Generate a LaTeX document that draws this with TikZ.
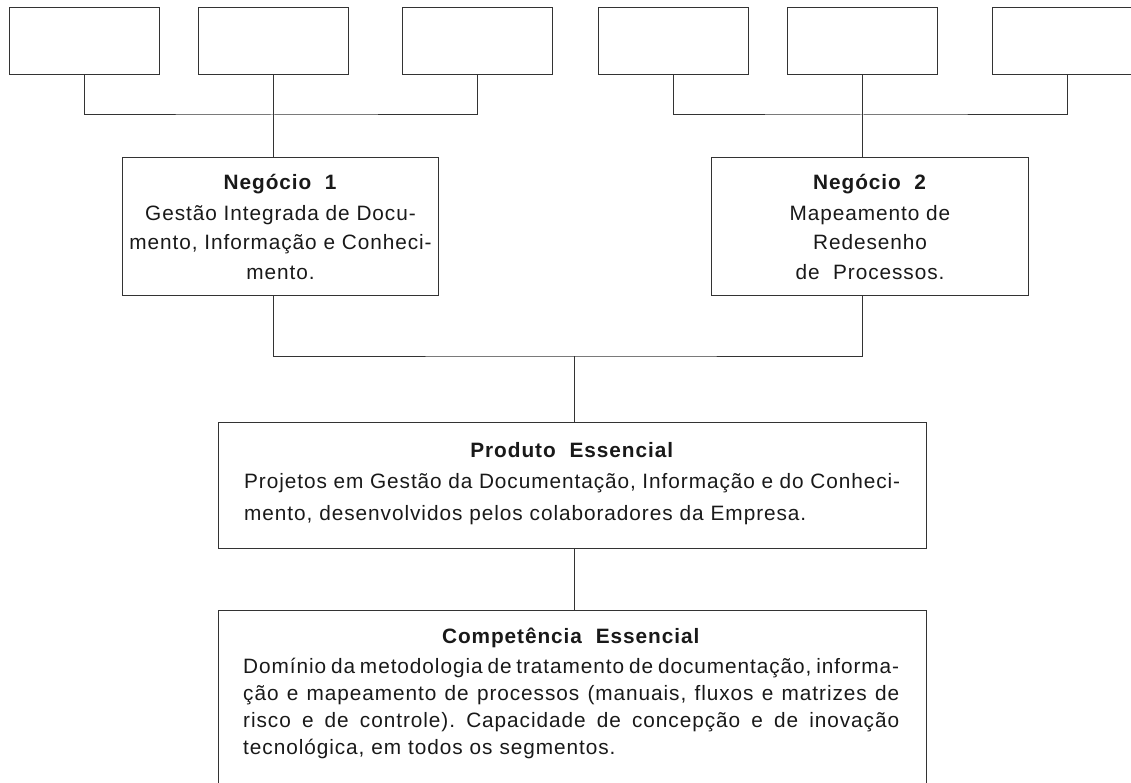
\documentclass[tikz,border=0pt]{standalone}
\usepackage{fontspec}
\setmainfont{Liberation Sans}[LetterSpace=4.5]
\usepackage{tikz}

% linha justificada: cada espaco vira cola elastica
\makeatletter
\def\linhaj#1{\makebox[656pt][s]{\linha@#1 \@nil}}
\def\linha@#1 #2\@nil{#1\if\relax\detokenize{#2}\relax\else\hskip 6.2pt plus 1fil minus 3pt\relax\linha@#2\@nil\fi}
\makeatother

\begin{document}
\begin{tikzpicture}[x=1pt,y=-1pt,
    caixa/.style={draw=black!80, line width=1pt, anchor=north west, inner sep=0pt},
    topo/.style={caixa, minimum width=150pt, minimum height=67pt},
    negocio/.style={caixa, minimum width=316pt, minimum height=138pt, align=center,
        font=\fontsize{20.8}{29.5}\selectfont, text=black!90},
    texto/.style={anchor=base west, inner sep=0pt, align=left, text width=656pt, text=black!90},
    liga/.style={draw=black!80, line width=1pt}]
            \useasboundingbox (0,0) rectangle (1131,783);
            \clip (0,0) rectangle (1131,783);

            % caixas vazias de cima
            \node[topo] (t1) at (8.6,7) {};
            \node[topo] (t2) at (197.5,7) {};
            \node[topo] (t3) at (402,7) {};
            \node[topo] (t4) at (598,7) {};
            \node[topo] (t5) at (787,7) {};
            \node[topo] (t6) at (991.5,7) {};

            \node[negocio] (n1) at (122,157) {\textbf{Negócio\ \ 1}\\[1.5pt] Gestão Integrada de Docu-\\ mento, Informação e Conheci-\\ mento.};
            \node[negocio, minimum width=317pt] (n2) at (711,157) {\textbf{Negócio\ \ 2}\\[1.5pt] Mapeamento de\\ Redesenho\\ de\ \ Processos.};

            \node[caixa, minimum width=708pt, minimum height=126pt] (prod) at (218,422) {};
            \node[caixa, minimum width=708pt, minimum height=200pt] (comp) at (218,610) {};

            \node[texto, font=\fontsize{20.8}{31.5}\selectfont] (prodtxt) at (244,457) {%
                \makebox[656pt]{\textbf{Produto\ \ Essencial}}\\
                \linhaj{Projetos em Gestão da Documentação, Informação e do Conheci-}\\
                mento, desenvolvidos pelos colaboradores da Empresa.};
            \node[texto, font=\fontsize{20.8}{27}\selectfont] (comptxt) at (243,643) {%
                \makebox[656pt]{\textbf{Competência\ \ Essencial}}\\[3pt]
                \linhaj{Domínio da metodologia de tratamento de documentação, informa-}\\
                \linhaj{ção e mapeamento de processos (manuais, fluxos e matrizes de}\\
                \linhaj{risco e de controle). Capacidade de concepção e de inovação}\\
                tecnológica, em todos os segmentos.};

            % ligacoes
            \coordinate (b1) at (272.5,115);
            \coordinate (b2) at (862,115);
            \coordinate (b3) at (574,356);
            \draw[liga] (t1.south) |- (b1) -| (t3.south);
            \draw[liga] (t2.south) -- (t2.south |- n1.north);
            \draw[liga] (t4.south) |- (b2) -| (t6.south);
            \draw[liga] (t5.south) -- (t5.south |- n2.north);
            \draw[liga] (n1.south -| t2.south) |- (b3) -| (n2.south -| t5.south);
            \draw[liga] (b3) -- (b3 |- prod.north);
            \draw[liga] (prod.south -| b3) -- (b3 |- comp.north);
\end{tikzpicture}
\end{document}
